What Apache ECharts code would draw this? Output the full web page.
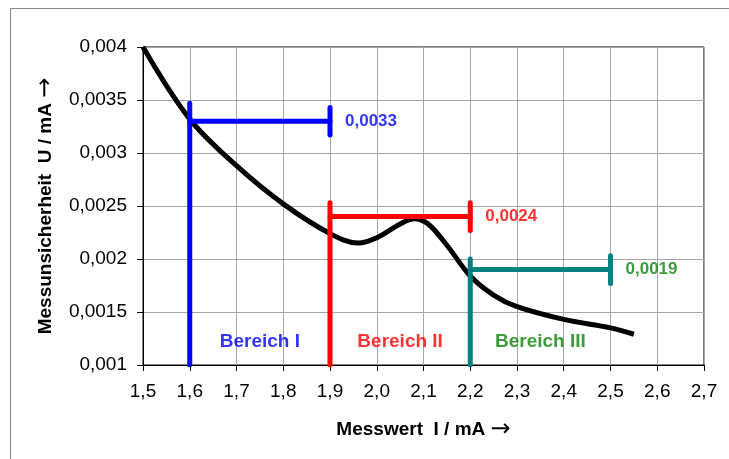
<!DOCTYPE html>
<html>
<head>
<meta charset="utf-8">
<script src="https://cdn.jsdelivr.net/npm/echarts@6/dist/echarts.min.js"></script>
<style>
  html, body { margin: 0; padding: 0; background: #ffffff; }
  #chart { width: 729px; height: 459px; }
</style>
</head>
<body>
<div id="chart"></div>
<script>
// Measurement uncertainty U over the measured current I
const currentValues = [1.5, 1.6, 1.7, 1.8, 1.9, 1.96, 2.0, 2.05, 2.08, 2.11, 2.15, 2.2, 2.25, 2.3, 2.4, 2.5, 2.55];
const uncertaintyValues = [0.0040, 0.00332, 0.00288, 0.00252, 0.00224, 0.00215, 0.00220, 0.00233, 0.00238, 0.00233, 0.00213, 0.00184, 0.00166, 0.00155, 0.00143, 0.00135, 0.00129];

// Measuring ranges with their guaranteed uncertainty
const rangeNames = ['Bereich I', 'Bereich II', 'Bereich III'];
const rangeStart = [1.6, 1.9, 2.2];
const rangeEnd = [1.9, 2.2, 2.5];
const rangeLevel = [0.0033, 0.0024, 0.0019];
const rangeTop = [0.00347, 0.00253, 0.0020];
const rangeLabelLevel = 0.00122;
const capHalf = 0.00013;

// Axis scale
const xMin = 1.5, xMax = 2.7, xStep = 0.1;
const yMin = 0.001, yMax = 0.004, yStep = 0.0005;

const lineColors = ['#0000ff', '#ff0000', '#008080'];
const textColors = ['#0000ff', '#ff0000', '#0b830b'];
const font = "'Liberation Sans', Arial, sans-serif";
const arrowFont = "'DejaVu Sans', sans-serif";

const comma = v => String(v).replace('.', ',');

const series = [{
  type: 'line',
  data: currentValues.map((x, i) => [x, uncertaintyValues[i]]),
  smooth: 0.35,
  showSymbol: false,
  lineStyle: { color: '#000000', width: 5 },
  z: 2,
  silent: true
}];

rangeNames.forEach((name, i) => {
  const segs = [
    [[rangeStart[i], yMin], [rangeStart[i], rangeTop[i]]],
    [[rangeStart[i], rangeLevel[i]], [rangeEnd[i], rangeLevel[i]]],
    [[rangeEnd[i], rangeLevel[i] + capHalf], [rangeEnd[i], rangeLevel[i] - capHalf]]
  ];
  segs.forEach(seg => series.push({
    type: 'line',
    data: seg,
    showSymbol: false,
    lineStyle: { color: lineColors[i], width: 5, cap: 'round' },
    z: 3,
    silent: true
  }));
  // value next to the cap
  series.push({
    type: 'scatter',
    data: [[rangeEnd[i], rangeLevel[i]]],
    symbolSize: 0,
    z: 4,
    silent: true,
    label: {
      show: true, position: 'right', distance: 15,
      formatter: () => comma(rangeLevel[i]),
      color: textColors[i], fontFamily: font, fontSize: 17, fontWeight: 'bold'
    }
  });
  // range name
  series.push({
    type: 'scatter',
    data: [[(rangeStart[i] + rangeEnd[i]) / 2, rangeLabelLevel]],
    symbolSize: 0,
    z: 4,
    silent: true,
    label: {
      show: true, position: 'inside',
      formatter: () => name,
      color: textColors[i], fontFamily: font, fontSize: 19, fontWeight: 'bold'
    }
  });
});

const titleStyle = {
  fontFamily: font, fontSize: 19, fontWeight: 'bold', color: '#000000',
  rich: {
    arrow: { fontFamily: arrowFont, fontSize: 24, fontWeight: 'normal', color: '#000000' }
  }
};

const chart = echarts.init(document.getElementById('chart'), null, { renderer: 'canvas' });
chart.setOption({
  animation: false,
  backgroundColor: '#ffffff',
  graphic: [{
    type: 'rect',
    shape: { x: 10.5, y: 8.5, width: 760, height: 500 },
    style: { fill: 'none', stroke: '#858585', lineWidth: 1 },
    z: -10
  }],
  grid: {
    left: 143, top: 47, right: 25, bottom: 94,
    show: true, borderColor: '#000000', borderWidth: 1, backgroundColor: 'transparent'
  },
  xAxis: {
    type: 'value', min: xMin, max: xMax, interval: xStep,
    name: 'Messwert  I / mA {arrow|\u2192}',
    nameLocation: 'middle', nameGap: 53,
    nameTextStyle: titleStyle,
    axisLine: { show: true, lineStyle: { color: '#000000', width: 1 } },
    axisTick: { show: true, inside: false, length: 6, lineStyle: { color: '#000000' } },
    axisLabel: {
      margin: 17, fontFamily: font, fontSize: 19, color: '#000000',
      formatter: v => v.toFixed(1).replace('.', ',')
    },
    splitLine: { show: true, lineStyle: { color: '#a6a6a6', width: 1 } }
  },
  yAxis: {
    type: 'value', min: yMin, max: yMax, interval: yStep,
    name: 'Messunsicherheit  U / mA {arrow|\u2192}',
    nameLocation: 'middle', nameGap: 85, nameRotate: 90,
    nameTextStyle: titleStyle,
    axisLine: { show: true, lineStyle: { color: '#000000', width: 1 } },
    axisTick: { show: true, inside: false, length: 6, lineStyle: { color: '#000000' } },
    axisLabel: {
      margin: 16, fontFamily: font, fontSize: 19, color: '#000000',
      formatter: v => comma(parseFloat(v.toPrecision(6)))
    },
    splitLine: { show: true, lineStyle: { color: '#a6a6a6', width: 1 } }
  },
  series: series
});
</script>
</body>
</html>
